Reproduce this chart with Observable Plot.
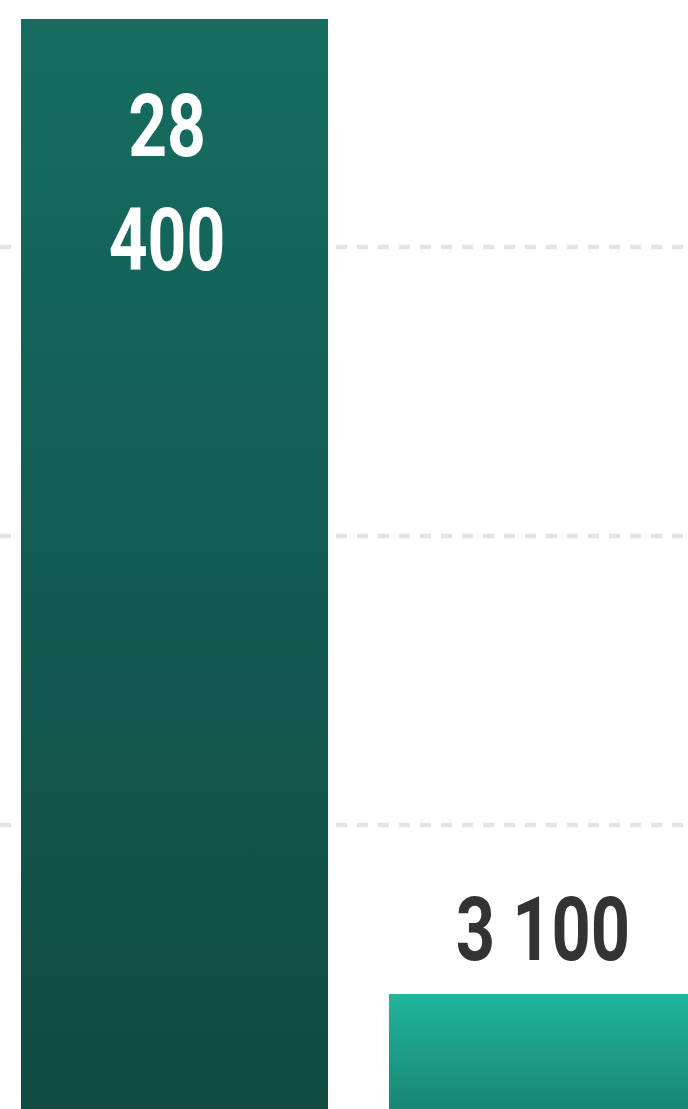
<!DOCTYPE html>
<html>
<head>
<meta charset="utf-8">
<script src="https://cdn.jsdelivr.net/npm/d3@7"></script>
<script src="https://cdn.jsdelivr.net/npm/@observablehq/plot@0.6"></script>
<style>
  html, body { margin: 0; padding: 0; background: #fff; overflow: hidden; }
  #chart svg { display: block; }
</style>
</head>
<body>
<div id="chart"></div>
<script>
// Data
const categories = ["A", "B"];
const values = [28400, 3100];
const gridTicks = [7500, 15000, 22500];
const gradTop = ["#156d60", "#1fb59d"];
const gradBottom = ["#104a42", "#198573"];

const fmt = d3.formatLocale({thousands: " ", grouping: [3], decimal: ","}).format(",d");
const data = categories.map((c, i) => ({cat: c, value: values[i], i}));

const font = "Roboto, 'Noto Sans', sans-serif";
const squeeze = 0.77;

const defs = () => {
  const ns = "http://www.w3.org/2000/svg";
  const d = document.createElementNS(ns, "defs");
  data.forEach((row, i) => {
    const g = document.createElementNS(ns, "linearGradient");
    g.setAttribute("id", "grad" + i);
    g.setAttribute("x1", "0"); g.setAttribute("y1", "0");
    g.setAttribute("x2", "0"); g.setAttribute("y2", "1");
    const s1 = document.createElementNS(ns, "stop");
    s1.setAttribute("offset", "0"); s1.setAttribute("stop-color", gradTop[i]);
    const s2 = document.createElementNS(ns, "stop");
    s2.setAttribute("offset", "1"); s2.setAttribute("stop-color", gradBottom[i]);
    g.appendChild(s1); g.appendChild(s2);
    d.appendChild(g);
  });
  return d;
};

const inside = data.filter(d => d.i === 0);
const outside = data.filter(d => d.i !== 0);

const chart = Plot.plot({
  width: 688,
  height: 1109,
  margin: 0,
  x: {domain: categories, range: [21, 696], paddingInner: 61 / 368, paddingOuter: 0, axis: null},
  y: {domain: [0, 28400], range: [1113.5, 19], axis: null},
  color: {type: "identity"},
  marks: [
    defs,
    Plot.gridY(gridTicks, {stroke: "#e4e4e4", strokeOpacity: 1, strokeWidth: 4.5, strokeDasharray: "11,10"}),
    Plot.barY(data, {x: "cat", y: "value", fill: d => `url(#grad${d.i})`}),
    Plot.text(inside, {
      x: "cat", y: "value",
      text: d => fmt(d.value).replace(" ", "\n"),
      dx: -8, dy: 157,
      fill: "#ffffff", fontSize: 88, fontWeight: "bold", fontFamily: font, lineHeight: 1.3,
      className: "vlabel"
    }),
    Plot.text(outside, {
      x: "cat", y: "value",
      text: d => fmt(d.value),
      dy: -63,
      fill: "#333333", fontSize: 89, fontWeight: "bold", fontFamily: font,
      className: "vlabel"
    })
  ]
});
// condense the label glyphs horizontally (Oswald-like look)
chart.querySelectorAll(".vlabel text").forEach(t => {
  const tr = t.getAttribute("transform") || "";
  t.setAttribute("transform", tr + ` scale(${squeeze},1)`);
});
document.getElementById("chart").appendChild(chart);
</script>
</body>
</html>
